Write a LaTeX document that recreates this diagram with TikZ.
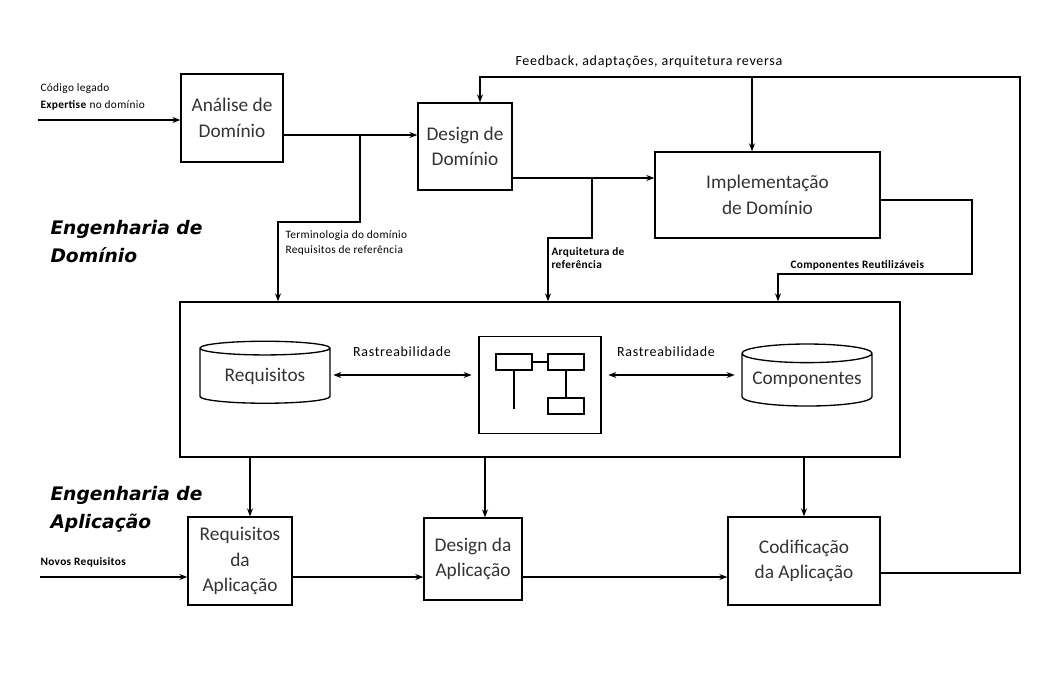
\documentclass[tikz,border=0pt]{standalone}
\usepackage{fontspec}
\setmainfont{Carlito}
\newfontfamily\secfont{DejaVu Sans}
\usetikzlibrary{arrows.meta,shapes.geometric}

\tikzset{every picture/.style={line width=0.75pt}}
\tikzset{
  blk/.style={draw, line width=1pt, align=center, inner sep=0pt, text=black!80,
    font=\fontsize{14.5}{19}\selectfont},
  cyl/.style={draw, line width=1pt, cylinder, shape border rotate=90, aspect=0.17,
    inner sep=0pt, text=black!80, font=\fontsize{14.5}{19}\selectfont},
  mini/.style={draw, line width=1pt, minimum width=27pt, minimum height=12pt, inner sep=0pt},
  arr/.style={line width=0.9pt, -{Stealth[length=6pt,width=4.5pt]}},
  darr/.style={line width=0.9pt, {Stealth[length=6pt,width=4.5pt]}-{Stealth[length=6pt,width=4.5pt]}},
  ln/.style={line width=0.9pt},
  lbl/.style={align=left, inner sep=0pt, font=\addfontfeature{LetterSpace=3}\fontsize{8.5}{11}\selectfont},
  blbl/.style={lbl, font=\addfontfeature{LetterSpace=3}\bfseries\fontsize{8.5}{10}\selectfont},
  mlbl/.style={inner sep=0pt, font=\addfontfeature{LetterSpace=5}\fontsize{10.5}{12}\selectfont},
  seclbl/.style={align=left, inner sep=0pt, font=\secfont\bfseries\itshape\fontsize{14}{21}\selectfont}
}

\begin{document}
\begin{tikzpicture}[x=0.75pt,y=0.75pt,yscale=-1,xscale=1]
\useasboundingbox (0,0) rectangle (1040,679);

% Blocks of the domain part
\node[blk, minimum width=76.5pt, minimum height=66pt] (analise) at (232,118) {Análise de\\Domínio};
\node[blk, minimum width=70.5pt, minimum height=65.25pt] (design) at (465,146.5) {Design de\\Domínio};
\node[blk, minimum width=168.75pt, minimum height=64.5pt] (impl) at (767.5,195) {Implementação\\de Domínio};

% Repository
\node[draw, line width=1pt, minimum width=540pt, minimum height=116.25pt] (repo) at (540,379.5) {};
\node[cyl, minimum width=97.5pt, minimum height=46.5pt] (reqcyl) at (265,376) {Requisitos};
\node[cyl, minimum width=97.5pt, minimum height=46.5pt] (compcyl) at (807,380) {Componentes};
\node[draw, line width=1pt, minimum width=91.5pt, minimum height=72.75pt] (arch) at (540,385) {};
\node[mini] (m1) at (514,362) {};
\node[mini] (m2) at (566,362) {};
\node[mini] (m3) at (566,406) {};
\draw[ln] (m1) -- (m2);
\draw[ln] (m2) -- (m3);
\draw[ln] (m1.south) -- ++(0,38);

% Blocks of the application part
\node[blk, minimum width=78pt, minimum height=66pt] (reqapp) at (240,561) {Requisitos\\da\\Aplicação};
\node[blk, minimum width=73.5pt, minimum height=61.5pt] (desapp) at (473,559) {Design da\\Aplicação};
\node[blk, minimum width=114pt, minimum height=66pt] (codapp) at (804,561) {Codificação\\da Aplicação};

% Coordinates
\coordinate (inA) at (38,120);
\coordinate (inR) at (40,577);
\coordinate (yAD) at (0,135);
\coordinate (yDI) at (0,178);
\coordinate (yIR) at (0,200);
\coordinate (yApp) at (0,577);
\coordinate (yFb) at (0,573);
\coordinate (brA) at (360,135);
\coordinate (brD) at (592,178);
\coordinate (fbR) at (1020,77);

% Connectors
\draw[arr] (inA) -- (inA -| analise.west);
\draw[arr] (analise.east |- yAD) -- (design.west |- yAD);
\draw[arr] (brA) -- (360,222) -- (278,222) -- (278,0 |- repo.north);
\draw[arr] (design.east |- yDI) -- (impl.west |- yDI);
\draw[arr] (brD) -- (592,238) -- (548,238) -- (548,0 |- repo.north);
\draw[arr] (impl.east |- yIR) -- (972,200) -- (972,274) -- (778,274) -- (778,0 |- repo.north);
\draw[arr] (codapp.east |- yFb) -- (fbR |- yFb) -- (fbR) -- (480,77) -- (480,0 |- design.north);
\draw[arr] (752,77) -- (752,0 |- impl.north);
\draw[arr] (250,0 |- repo.south) -- (250,0 |- reqapp.north);
\draw[arr] (485,0 |- repo.south) -- (485,0 |- desapp.north);
\draw[arr] (804,0 |- repo.south) -- (804,0 |- codapp.north);
\draw[arr] (inR) -- (inR -| reqapp.west);
\draw[arr] (reqapp.east |- yApp) -- (desapp.west |- yApp);
\draw[arr] (desapp.east |- yApp) -- (codapp.west |- yApp);
\draw[darr] ([xshift=2pt]reqcyl.east |- 0,375) -- ([xshift=-5pt]arch.west |- 0,375);
\draw[darr] ([xshift=5pt]arch.east |- 0,375) -- ([xshift=-5pt]compcyl.west |- 0,375);

% Text Node
\node[lbl, anchor=west] (lcod) at (40,89) {Código legado};
% Text Node
\node[lbl, anchor=west] (lexp) at (40,105) {\textbf{Expertise} no domínio};
% Text Node
\node[mlbl, anchor=west] (lfb) at (515,62) {Feedback, adaptações, arquitetura reversa};
% Text Node
\node[lbl, anchor=north west] (lterm) at (285,230) {Terminologia do domínio\\Requisitos de referência};
% Text Node
\node[blbl, anchor=north west] (larq) at (551,247) {Arquitetura de\\referência};
% Text Node
\node[blbl, anchor=west] (lcomp) at (790,265) {Componentes Reutilizáveis};
% Text Node
\node[mlbl] (lr1) at (402,352) {Rastreabilidade};
% Text Node
\node[mlbl] (lr2) at (666,352) {Rastreabilidade};
% Text Node
\node[blbl, anchor=west] (lnov) at (40,562) {Novos Requisitos};
% Text Node
\node[seclbl, anchor=west] (sdom) at (50,242) {Engenharia de\\Domínio};
% Text Node
\node[seclbl, anchor=west] (sapp) at (50,509) {Engenharia de\\Aplicação};

\end{tikzpicture}
\end{document}
